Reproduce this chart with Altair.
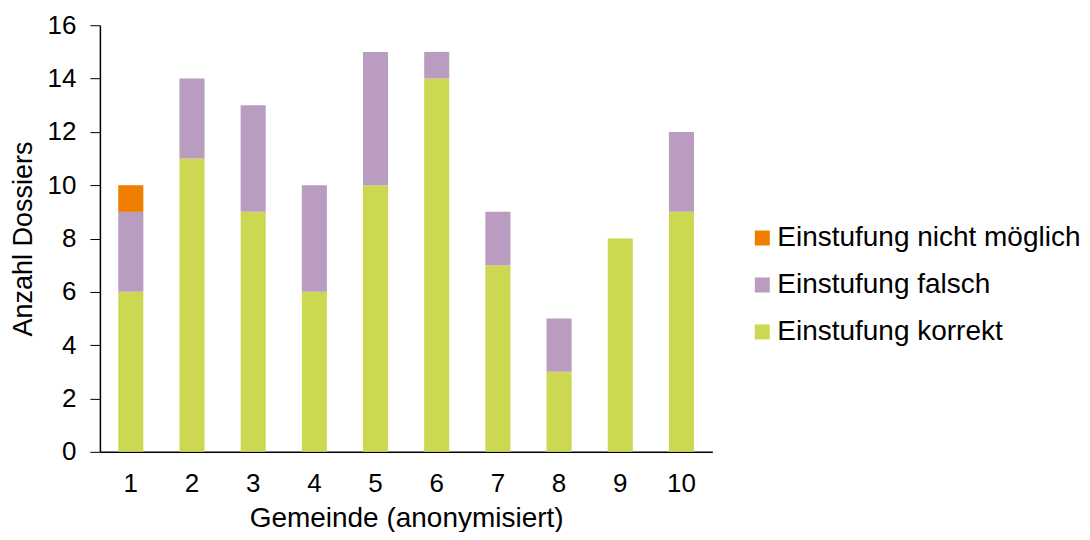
import altair as alt
import pandas as pd

gemeinden = [1, 2, 3, 4, 5, 6, 7, 8, 9, 10]
korrekt = [6, 11, 9, 6, 10, 14, 7, 3, 8, 9]
falsch = [3, 3, 4, 4, 5, 1, 2, 2, 0, 3]
nicht_moeglich = [1, 0, 0, 0, 0, 0, 0, 0, 0, 0]

categories = ["Einstufung nicht möglich", "Einstufung falsch", "Einstufung korrekt"]
colors = ["#EF7D00", "#B99CC0", "#CDD852"]

rows = []
for i, g in enumerate(gemeinden):
    rows.append({"Gemeinde": g, "Kategorie": "Einstufung korrekt", "Anzahl": korrekt[i], "ord": 0})
    rows.append({"Gemeinde": g, "Kategorie": "Einstufung falsch", "Anzahl": falsch[i], "ord": 1})
    rows.append({"Gemeinde": g, "Kategorie": "Einstufung nicht möglich", "Anzahl": nicht_moeglich[i], "ord": 2})
df = pd.DataFrame(rows)

font = "Liberation Sans"

chart = alt.Chart(df).mark_bar().encode(
    x=alt.X("Gemeinde:O", title="Gemeinde (anonymisiert)",
            scale=alt.Scale(paddingInner=0.59, paddingOuter=0.3),
            axis=alt.Axis(labelAngle=0, ticks=False, labelPadding=19, titlePadding=8,
                          titleFontSize=28,
                          domainColor="#000000", domainWidth=1.5)),
    y=alt.Y("Anzahl:Q", title="Anzahl Dossiers", stack="zero",
            scale=alt.Scale(domain=[0, 16]),
            axis=alt.Axis(values=[0, 2, 4, 6, 8, 10, 12, 14, 16], grid=False,
                          tickSize=10, tickColor="#000000", domainColor="#000000",
                          domainWidth=1.5, labelPadding=14, titlePadding=10)),
    color=alt.Color("Kategorie:N", scale=alt.Scale(domain=categories, range=colors),
                    legend=alt.Legend(title=None, orient="none", legendX=649, legendY=199,
                                      symbolType="square", symbolSize=225, symbolStrokeWidth=0,
                                      labelFontSize=28, labelFont=font, labelColor="#000000",
                                      rowPadding=19, labelOffset=1, labelLimit=400)),
    order=alt.Order("ord:Q"),
).properties(
    width=613, height=427,
    autosize=alt.AutoSizeParams(type="none"),
    padding={"left": 92, "top": 17, "right": 370, "bottom": 80},
).configure_view(
    stroke=None
).configure_axis(
    labelFont=font, titleFont=font, labelFontSize=26, titleFontSize=27,
    labelColor="#000000", titleColor="#000000", titleFontWeight="normal"
)

chart.save("out.html", embed_options={"renderer": "svg", "actions": False})
